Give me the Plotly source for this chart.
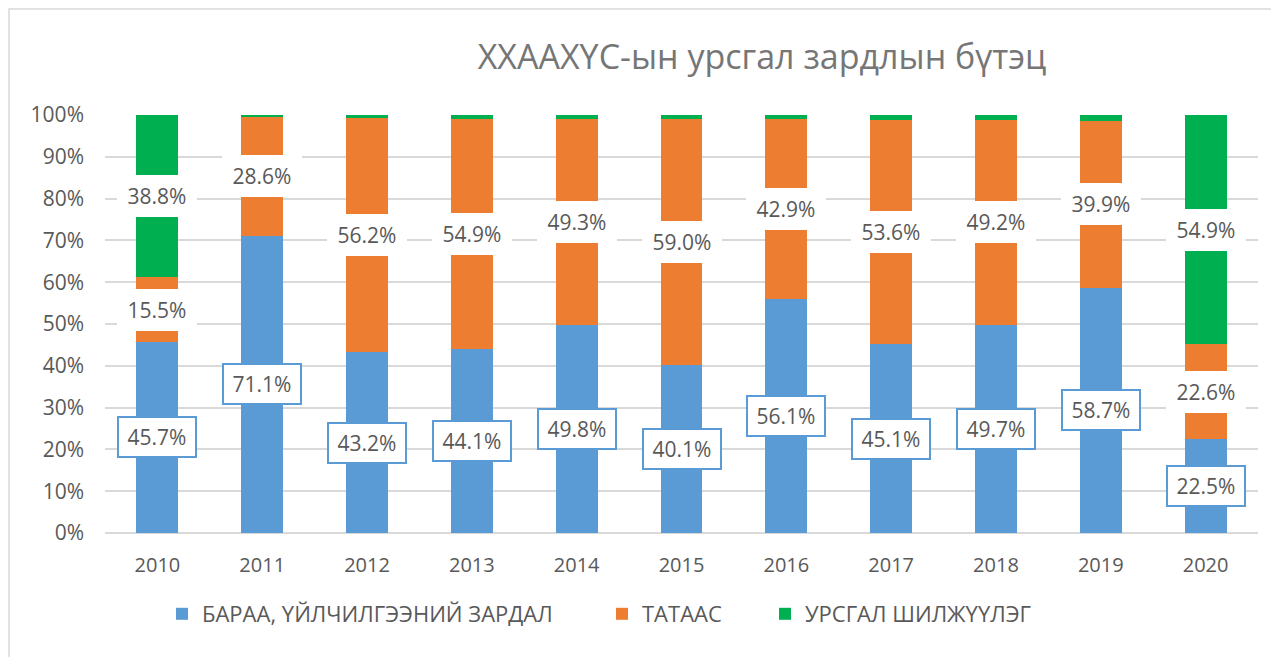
import plotly.graph_objects as go

years = ["2010", "2011", "2012", "2013", "2014", "2015", "2016", "2017", "2018", "2019", "2020"]
goods = [45.7, 71.1, 43.2, 44.1, 49.8, 40.1, 56.1, 45.1, 49.7, 58.7, 22.5]
subsidy = [15.5, 28.6, 56.2, 54.9, 49.3, 59.0, 42.9, 53.6, 49.2, 39.9, 22.6]
transfer = [38.8, 0.3, 0.6, 1.0, 0.9, 0.9, 1.0, 1.3, 1.1, 1.4, 54.9]
transfer_labeled = ["2010", "2020"]

names = ["БАРАА, ҮЙЛЧИЛГЭЭНИЙ ЗАРДАЛ", "ТАТААС", "УРСГАЛ ШИЛЖҮҮЛЭГ"]
colors = ["#5B9BD5", "#ED7D31", "#00B050"]
title_text = "XXAAXYC-ын урсгал зардлын бүтэц"

FONT = "Open Sans"
GRAY = "#595959"

# page body has an 8px margin; figure is sized to fill the rest
OFF = 8
W, H = 1279 - OFF, 657 - OFF
PL, PR, PT, PB = 105 - OFF, 1258 - OFF, 115 - OFF, 533 - OFF  # plot box in figure px

fig = go.Figure()
series = [goods, subsidy, transfer]
legends = ["legend", "legend2", "legend3"]
for name, vals, col, lg in zip(names, series, colors, legends):
    fig.add_trace(go.Bar(
        x=years, y=vals, name=name, marker=dict(color=col, line=dict(width=0)),
        width=0.4, legend=lg, hoverinfo="skip", showlegend=True,
    ))

annotations = []
for i, yr in enumerate(years):
    base = 0.0
    for k, vals in enumerate(series):
        v = vals[i]
        mid = base + v / 2
        base += v
        if k == 2 and yr not in transfer_labeled:
            continue
        ann = dict(
            x=i, y=mid, xref="x", yref="y", text=f"{v:.1f}%", showarrow=False,
            font=dict(family=FONT, size=21, color=GRAY),
            bgcolor="white", width=70, height=32, borderpad=3,
        )
        if k == 0:
            ann.update(bordercolor="#5B9BD5", borderwidth=2)
        else:
            ann.update(bordercolor="white", borderwidth=2)
        annotations.append(ann)

ly = 1 - (614 - OFF) / H
leg_common = dict(xref="container", yref="container", xanchor="left", yanchor="middle",
                  font=dict(size=22, color=GRAY), bgcolor="rgba(0,0,0,0)", orientation="h")

pw, ph = PR - PL, PB - PT

fig.update_layout(
    width=W, height=H,
    margin=dict(l=PL, r=W - PR, t=PT, b=H - PB, autoexpand=False),
    paper_bgcolor="white", plot_bgcolor="white",
    barmode="stack",
    font=dict(family=FONT, color=GRAY),
    title=dict(text=title_text, x=(762 - OFF) / W, y=1 - (57 - OFF) / H, xref="container", yref="container",
               xanchor="center", yanchor="middle",
               font=dict(family=FONT, size=34, color="#767676")),
    xaxis=dict(type="category", range=[-0.5, len(years) - 0.5], showgrid=False, showline=False, ticks="",
               tickfont=dict(size=20, color=GRAY), ticklabelstandoff=18),
    yaxis=dict(range=[0, 100], dtick=10, ticksuffix="%", showgrid=True, gridcolor="#D9D9D9",
               gridwidth=1.5, zeroline=True, zerolinecolor="#D9D9D9", zerolinewidth=1.5,
               showline=False, ticks="", tickfont=dict(size=21, color=GRAY), ticklabelstandoff=20),
    annotations=annotations,
    legend=dict(x=(197 - 35 - OFF) / W, y=ly, **leg_common),
    legend2=dict(x=(637 - 35 - OFF) / W, y=ly, **leg_common),
    legend3=dict(x=(800 - 35 - OFF) / W, y=ly, **leg_common),
    shapes=[dict(type="rect", xref="paper", yref="paper",
                 x0=(9 - 105) / pw, x1=1.2, y0=-0.6, y1=(533 - 9) / ph,
                 line=dict(color="#D9D9D9", width=1.5), fillcolor="rgba(0,0,0,0)", layer="below")],
)

fig.write_html("out.html")
